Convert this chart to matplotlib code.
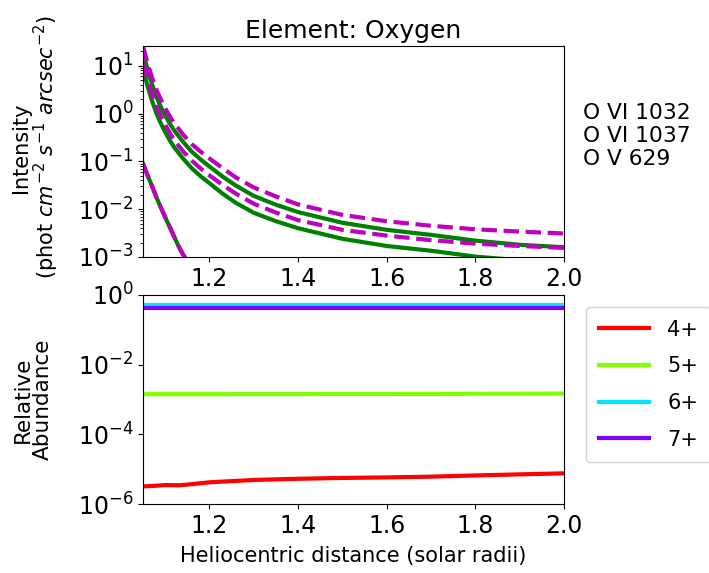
import matplotlib
matplotlib.use("Agg")
import matplotlib.pyplot as plt
from matplotlib.ticker import NullLocator

# Heliocentric distance grid (solar radii) for the intensity curves
r_int = [1.05, 1.06, 1.07, 1.08, 1.09, 1.10, 1.11, 1.12, 1.14, 1.16, 1.18,
         1.20, 1.23, 1.26, 1.30, 1.35, 1.40, 1.50, 1.60, 1.70, 1.80, 1.90, 2.00]

# O VI 1032 / 1037, green solid model
ovi1032_a = [20, 8.5, 4.2, 2.3, 1.4, 0.92, 0.63, 0.45, 0.26, 0.16, 0.11,
             0.078, 0.048, 0.031, 0.019, 0.0124, 0.0087, 0.0052, 0.0037,
             0.0029, 0.0022, 0.0018, 0.0016]
ovi1037_a = [9, 3.8, 1.9, 1.03, 0.63, 0.41, 0.28, 0.2, 0.116, 0.072, 0.049,
             0.035, 0.021, 0.0135, 0.0084, 0.0056, 0.0040, 0.0024, 0.0017,
             0.00135, 0.00102, 0.00085, 0.00075]
# O VI 1032 / 1037, magenta dashed model
ovi1032_b = [25.7, 11.5, 5.8, 3.2, 2.0, 1.3, 0.89, 0.64, 0.37, 0.23, 0.16,
             0.115, 0.072, 0.046, 0.0285, 0.0185, 0.0126, 0.0076, 0.0056,
             0.0045, 0.0038, 0.0034, 0.0031]
ovi1037_b = [11.5, 5.2, 2.6, 1.45, 0.9, 0.59, 0.4, 0.28, 0.165, 0.104, 0.071,
             0.051, 0.032, 0.021, 0.013, 0.0085, 0.0059, 0.0037, 0.0028,
             0.00225, 0.0019, 0.0017, 0.00155]

# O V 629 (both models overlap)
r_ov = [1.05, 1.06, 1.07, 1.08, 1.09, 1.10, 1.11, 1.12, 1.13, 1.14, 1.15,
        1.17, 1.20]
ov629 = [0.09, 0.052, 0.031, 0.018, 0.011, 0.0068, 0.0043, 0.0027, 0.0017,
         0.00115, 0.0008, 0.0004, 0.00015]

line_names = ["O VI 1032", "O VI 1037", "O V 629"]

# Ion fractions
r_ion = [1.05, 1.08, 1.10, 1.13, 1.15, 1.20, 1.30, 1.40, 1.50, 1.60, 1.70,
         1.80, 1.90, 2.00]
frac_4 = [3.2e-6, 3.35e-6, 3.5e-6, 3.45e-6, 3.6e-6, 4.2e-6, 4.9e-6, 5.3e-6,
          5.6e-6, 5.8e-6, 6.1e-6, 6.6e-6, 7.1e-6, 7.6e-6]
frac_5 = [1.42e-3, 1.42e-3, 1.42e-3, 1.42e-3, 1.42e-3, 1.42e-3, 1.43e-3,
          1.43e-3, 1.44e-3, 1.44e-3, 1.45e-3, 1.46e-3, 1.47e-3, 1.48e-3]
frac_6 = [0.53] * 14
frac_7 = [0.43] * 14
ion_labels = ["4+", "5+", "6+", "7+"]
ion_colors = ["#ff0000", "#80ff00", "#00e8ff", "#7f00ff"]

fig = plt.figure(figsize=(7.09, 5.73), dpi=100)
ax1 = fig.add_axes([0.2017, 0.5515, 0.5938, 0.3682])
ax2 = fig.add_axes([0.2017, 0.1204, 0.5938, 0.3648])

# top panel: line intensities
for y in (ovi1032_a, ovi1037_a):
    ax1.plot(r_int, y, color="green", lw=3)
ax1.plot(r_ov, ov629, color="green", lw=3)
for y in (ovi1032_b, ovi1037_b):
    ax1.plot(r_int, y, color="m", lw=3, ls="--")
ax1.plot(r_ov, ov629, color="m", lw=3, ls="--")
ax1.set_yscale("log")
ax1.set_xlim(1.05, 2.0)
ax1.set_ylim(1e-3, 26)
ax1.set_xticks([1.2, 1.4, 1.6, 1.8, 2.0])
ax1.set_title("Element: Oxygen", fontsize=18)
ax1.set_ylabel("Intensity\n(phot $cm^{-2}$ $s^{-1}$ $arcsec^{-2}$)", fontsize=15,
               linespacing=1.05)
ax1.yaxis.set_label_coords(-0.195, 0.52)
ax1.tick_params(labelsize=17)

fig.text(583 / 709, 1 - 103 / 573, "\n".join(line_names), fontsize=15.7,
         va="top", linespacing=1.2)

# bottom panel: relative abundance
for y, lab, c in zip((frac_4, frac_5, frac_6, frac_7), ion_labels, ion_colors):
    ax2.plot(r_ion, y, color=c, lw=3, label=lab)
ax2.set_yscale("log")
ax2.set_xlim(1.05, 2.0)
ax2.set_ylim(1e-6, 1)
ax2.set_yticks([1e-6, 1e-4, 1e-2, 1])
ax2.yaxis.set_minor_locator(NullLocator())
ax2.set_xticks([1.2, 1.4, 1.6, 1.8, 2.0])
ax2.tick_params(labelsize=17)
ax2.set_ylabel("Relative\nAbundance", fontsize=15.5, linespacing=1.0)
ax2.yaxis.set_label_coords(-0.215, 0.5)
ax2.set_xlabel("Heliocentric distance (solar radii)", fontsize=15, labelpad=6)
ax2.legend(loc="upper left", bbox_to_anchor=(586 / 709, 1 - 307 / 573),
           bbox_transform=fig.transFigure, borderaxespad=0, fontsize=15,
           handlelength=2.4, handletextpad=0.9, labelspacing=0.8,
           borderpad=0.6)

fig.savefig("out.png", dpi=100)
